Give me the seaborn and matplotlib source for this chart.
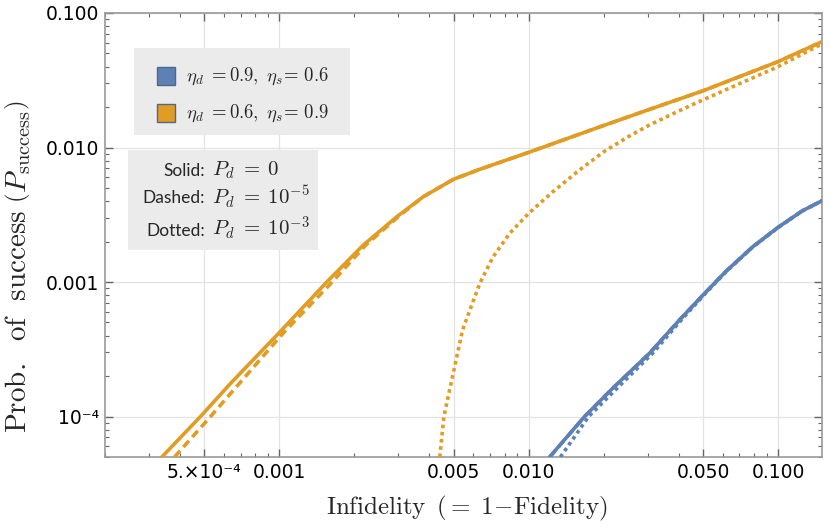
import matplotlib
matplotlib.use("Agg")
import matplotlib.pyplot as plt
import matplotlib.ticker as mticker
from matplotlib.patches import Rectangle
import seaborn as sns

# values (log-log)
orange_solid_x = [3.38e-4, 4.83e-4, 6.37e-4, 9.94e-4, 1.55e-3, 2.17e-3, 2.96e-3, 3.78e-3,
                  5.0e-3, 6.37e-3, 1.0e-2, 1.92e-2, 3.05e-2, 5.0e-2, 1.0e-1, 1.5e-1]
orange_solid_y = [5.0e-5, 1.0e-4, 1.76e-4, 4.16e-4, 1.0e-3, 1.88e-3, 3.06e-3, 4.31e-3,
                  5.81e-3, 6.89e-3, 9.2e-3, 1.42e-2, 1.92e-2, 2.64e-2, 4.35e-2, 6.12e-2]

orange_dashed_x = [3.80e-4, 5.30e-4, 1.035e-3, 1.63e-3, 2.22e-3, 3.0e-3, 3.78e-3,
                   5.0e-3, 6.37e-3, 1.0e-2, 1.92e-2, 3.05e-2, 5.0e-2, 1.0e-1, 1.5e-1]
orange_dashed_y = [5.0e-5, 1.0e-4, 4.16e-4, 1.0e-3, 1.88e-3, 3.06e-3, 4.31e-3,
                   5.81e-3, 6.89e-3, 9.2e-3, 1.42e-2, 1.92e-2, 2.64e-2, 4.35e-2, 6.12e-2]

orange_dotted_x = [4.40e-3, 4.57e-3, 5.43e-3, 5.81e-3, 6.37e-3, 7.20e-3, 8.39e-3, 1.0e-2,
                   1.25e-2, 1.6e-2, 2.0e-2, 2.5e-2, 3.05e-2, 4.0e-2, 5.0e-2, 7.0e-2,
                   1.0e-1, 1.5e-1]
orange_dotted_y = [5.0e-5, 1.0e-4, 4.40e-4, 6.19e-4, 9.8e-4, 1.54e-3, 2.3e-3, 3.24e-3,
                   4.69e-3, 6.81e-3, 9.3e-3, 1.2e-2, 1.47e-2, 1.87e-2, 2.26e-2, 2.98e-2,
                   3.99e-2, 5.89e-2]

blue_solid_x = [0.01213, 0.01675, 0.0217, 0.0305, 0.0402, 0.05, 0.0618, 0.0789, 0.1, 0.125, 0.15]
blue_solid_y = [5.0e-5, 1.0e-4, 1.62e-4, 2.95e-4, 5.21e-4, 8.0e-4, 1.2e-3, 1.82e-3, 2.55e-3, 3.38e-3, 4.02e-3]

blue_dashed_x = [0.01215, 0.01677, 0.0217, 0.0305, 0.0402, 0.05, 0.0618, 0.0789, 0.1, 0.125, 0.15]
blue_dashed_y = [5.0e-5, 1.0e-4, 1.62e-4, 2.95e-4, 5.21e-4, 8.0e-4, 1.2e-3, 1.82e-3, 2.55e-3, 3.38e-3, 4.02e-3]

blue_dotted_x = [0.0134, 0.0174, 0.0226, 0.0314, 0.0409, 0.0504, 0.0618, 0.0789, 0.1, 0.125, 0.15]
blue_dotted_y = [5.0e-5, 1.0e-4, 1.62e-4, 2.95e-4, 5.21e-4, 8.0e-4, 1.19e-3, 1.81e-3, 2.54e-3, 3.37e-3, 4.01e-3]

x_ticks = [5e-4, 1e-3, 5e-3, 1e-2, 5e-2, 1e-1]
x_tick_labels = ["5.\u00d710\u207b\u2074", "0.001", "0.005", "0.010", "0.050", "0.100"]
y_ticks = [1e-4, 1e-3, 1e-2, 1e-1]
y_tick_labels = ["10\u207b\u2074", "0.001", "0.010", "0.100"]

legend_labels = [r"$\eta_d\;=0.9,\;\eta_s\!=\,0.6$", r"$\eta_d\;=0.6,\;\eta_s\!=\,0.9$"]
style_names = ["Solid:", "Dashed:", "Dotted:"]
style_values = [r"$P_d\;=\;0$", r"$P_d\;=\;10^{-5}$", r"$P_d\;=\;10^{-3}$"]

BLUE = "#5E81B5"
ORANGE = "#E19C24"

sns.set_theme(style="white")
plt.rcParams["font.family"] = ["DejaVu Sans"]
plt.rcParams["mathtext.fontset"] = "cm"

W, H = 830, 529
fig = plt.figure(figsize=(W / 100, H / 100), dpi=100)
ax = fig.add_axes([105 / W, 1 - 457 / H, 717 / W, 444 / H])


def px(x, y):
    # pixel (from top-left) -> figure fraction
    return x / W, 1 - y / H


lw = 2.6
dots = (0, (1, 1))
dashes = (0, (2.3, 1.4))
sns.lineplot(x=blue_dotted_x, y=blue_dotted_y, ax=ax, color=BLUE, lw=lw,
             linestyle=dots, estimator=None, zorder=3)
sns.lineplot(x=blue_dashed_x, y=blue_dashed_y, ax=ax, color=BLUE, lw=lw,
             linestyle=dashes, estimator=None, zorder=3)
sns.lineplot(x=blue_solid_x, y=blue_solid_y, ax=ax, color=BLUE, lw=lw,
             estimator=None, zorder=4)
sns.lineplot(x=orange_dotted_x, y=orange_dotted_y, ax=ax, color=ORANGE, lw=lw,
             linestyle=dots, estimator=None, zorder=3)
sns.lineplot(x=orange_dashed_x, y=orange_dashed_y, ax=ax, color=ORANGE, lw=lw,
             linestyle=dashes, estimator=None, zorder=3)
sns.lineplot(x=orange_solid_x, y=orange_solid_y, ax=ax, color=ORANGE, lw=lw,
             estimator=None, zorder=4)

ax.set_xscale("log")
ax.set_yscale("log")
ax.set_xlim(2e-4, 0.15)
ax.set_ylim(5e-5, 0.1)

ax.xaxis.set_major_locator(mticker.FixedLocator(x_ticks))
ax.xaxis.set_major_formatter(mticker.FixedFormatter(x_tick_labels))
ax.xaxis.set_minor_locator(mticker.LogLocator(base=10, subs=(2, 3, 4, 6, 7, 8, 9), numticks=20))
ax.xaxis.set_minor_formatter(mticker.NullFormatter())
ax.yaxis.set_major_locator(mticker.FixedLocator(y_ticks))
ax.yaxis.set_major_formatter(mticker.FixedFormatter(y_tick_labels))
ax.yaxis.set_minor_locator(mticker.LogLocator(base=10, subs=(2, 3, 4, 5, 6, 7, 8, 9), numticks=20))
ax.yaxis.set_minor_formatter(mticker.NullFormatter())

ax.grid(True, which="major", color="#e3e3e3", lw=0.9)
ax.tick_params(which="both", direction="in", bottom=True, left=True, top=True, right=True,
               color="#666666", labelsize=13.5, labelcolor="black", pad=4)
ax.tick_params(which="major", length=6, width=1)
ax.tick_params(which="minor", length=3, width=0.8)
for s in ax.spines.values():
    s.set_color("#999999")
    s.set_linewidth(1.2)

ax.set_xlabel(r"$\mathrm{Infidelity}\ \,({=}\;1\!-\!\mathrm{Fidelity})$", fontsize=18)
ax.set_ylabel(r"$\mathrm{Prob.\ \ of\ \ success}\ \left(P_{\mathrm{success}}\right)$", fontsize=21)
ax.xaxis.set_label_coords((467 - 105) / 717, -(494 - 457) / 444)
ax.yaxis.set_label_coords(-(105 - 33) / 717, (457 - 266) / 444)

# legend box with colour swatches
x0, y0 = px(134, 135)
x1, y1 = px(350, 48)
fig.patches.append(Rectangle((x0, y0), x1 - x0, y1 - y0, transform=fig.transFigure,
                             facecolor="#ebebeb", edgecolor="none", zorder=5))
for col, lab, yc in zip([BLUE, ORANGE], legend_labels, [76, 113]):
    sx, sy = px(157, yc + 9)
    ex, ey = px(175, yc - 9)
    fig.patches.append(Rectangle((sx, sy), ex - sx, ey - sy, transform=fig.transFigure,
                                 facecolor=col, edgecolor="#4f6690", lw=1, zorder=6))
    tx, ty = px(186, yc + 4.5)
    fig.text(tx, ty, lab, fontsize=13.5, va="baseline", ha="left", zorder=7)

# line style box
x0, y0 = px(128, 250)
x1, y1 = px(318, 150)
fig.patches.append(Rectangle((x0, y0), x1 - x0, y1 - y0, transform=fig.transFigure,
                             facecolor="#ebebeb", edgecolor="none", zorder=5))
for name, val, yb in zip(style_names, style_values, [175.7, 203.3, 235.7]):
    tx, ty = px(205, yb)
    fig.text(tx, ty, name, fontsize=12.5, family="Lato", va="baseline", ha="right", zorder=7)
    tx, ty = px(212, yb)
    fig.text(tx, ty, val, fontsize=15, va="baseline", ha="left", zorder=7)

fig.savefig("out.png", dpi=100)
